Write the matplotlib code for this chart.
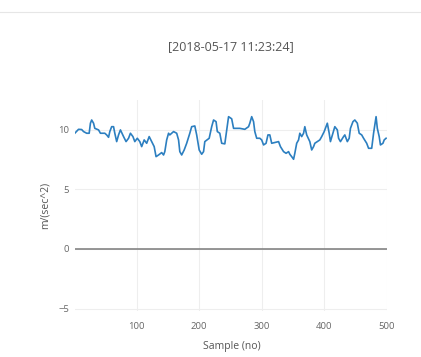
import matplotlib
matplotlib.use("Agg")
import matplotlib.pyplot as plt
from matplotlib.lines import Line2D

title = "[2018-05-17 11:23:24]"
x_label = "Sample (no)"
y_label = "m/(sec^2)"
x_ticks = [100, 200, 300, 400, 500]
y_ticks = [-5, 0, 5, 10]

sample = [1, 7, 12, 15, 20, 24, 26, 28, 31, 33, 39, 42, 49, 52, 55, 57, 60, 63, 65,
          68, 71, 74, 79, 83, 87, 90, 94, 97, 101, 105, 108, 112, 116, 120, 124, 128,
          131, 135, 140, 143, 145, 148, 151, 153, 159, 164, 167, 169, 172, 176, 180,
          185, 188, 193, 196, 200, 204, 207, 209, 216, 220, 223, 227, 229, 233, 236,
          241, 244, 247, 252, 255, 265, 273, 279, 281, 284, 287, 289, 292, 297, 300,
          303, 307, 310, 313, 316, 327, 330, 335, 339, 343, 345, 348, 351, 353, 356,
          359, 361, 364, 367, 369, 372, 377, 380, 383, 385, 393, 396, 400, 403, 405,
          408, 410, 414, 417, 421, 423, 426, 431, 433, 437, 440, 442, 446, 449, 453,
          456, 460, 463, 468, 471, 476, 479, 481, 483, 485, 488, 490, 494, 496, 499]
accel = [9.69, 10.02, 10.0, 9.83, 9.69, 9.69, 10.53, 10.8, 10.53, 10.1, 9.97, 9.69,
         9.69, 9.55, 9.35, 9.83, 10.24, 10.24, 9.69, 8.99, 9.55, 9.97, 9.41, 8.99,
         9.27, 9.69, 9.41, 8.99, 9.27, 8.99, 8.57, 9.13, 8.85, 9.41, 8.99, 8.57, 7.73,
         7.87, 8.07, 7.87, 8.15, 9.13, 9.69, 9.55, 9.83, 9.69, 9.13, 8.15, 7.87, 8.29,
         8.85, 9.69, 10.24, 10.3, 9.55, 8.29, 7.93, 8.15, 8.99, 9.27, 10.24, 10.8,
         10.66, 9.83, 9.69, 8.85, 8.8, 9.97, 11.08, 10.9, 10.1, 10.1, 10.02, 10.24,
         10.53, 11.08, 10.66, 9.83, 9.27, 9.27, 9.13, 8.71, 8.85, 9.55, 9.55, 8.85,
         8.99, 8.57, 8.15, 8.01, 8.15, 7.93, 7.73, 7.51, 8.01, 8.85, 9.13, 9.69, 9.41,
         9.69, 10.24, 9.55, 8.99, 8.29, 8.57, 8.85, 9.13, 9.41, 9.83, 10.24, 10.53,
         9.69, 8.99, 9.69, 10.24, 9.97, 9.27, 8.99, 9.41, 9.55, 8.99, 9.27, 10.1,
         10.66, 10.8, 10.53, 9.69, 9.55, 9.27, 8.85, 8.43, 8.43, 9.69, 10.38, 11.08,
         10.1, 9.41, 8.71, 8.85, 9.13, 9.27]

plt.rcParams['font.family'] = ['Open Sans', 'DejaVu Sans']

W, H = 421, 357
fig = plt.figure(figsize=(W / 100, H / 100), dpi=100)
fig.patch.set_facecolor('white')

left, right, bottom, top = 74.8, 386.7, 311.0, 99.7
ax = fig.add_axes([left / W, 1 - bottom / H, (right - left) / W, (bottom - top) / H])
ax.set_facecolor('white')

ax.set_xlim(1, 500)
ax.set_ylim(-5.2, 12.5)
ax.set_xticks(x_ticks)
ax.set_yticks(y_ticks)
ax.grid(True, color='#eeeeee', linewidth=0.8)
ax.set_axisbelow(True)
ax.axhline(0, color='#7a7a7a', linewidth=1.1, zorder=1)
for s in ax.spines.values():
    s.set_visible(False)
ax.tick_params(axis='both', length=0, labelsize=6.8, colors='#666666')
ax.tick_params(axis='x', pad=8)
ax.tick_params(axis='y', pad=4)

ax.plot(sample, accel, color='#2c7fc0', linewidth=1.2, zorder=3)

fig.text((left + right) / 2 / W, 1 - 47 / H, title, ha='center', va='center',
         fontsize=9, color='#555555')
fig.text(232 / W, 1 - 347 / H, x_label, ha='center', va='center',
         fontsize=7.5, color='#555555')
fig.text(45 / W, 1 - 205 / H, y_label, ha='center', va='center', rotation=90,
         fontsize=7.5, color='#555555')

fig.add_artist(Line2D([0, 1], [1 - 12 / H, 1 - 12 / H], transform=fig.transFigure,
                      color='#e6e6e6', linewidth=0.8))

fig.savefig('out.png', dpi=100, facecolor='white')
